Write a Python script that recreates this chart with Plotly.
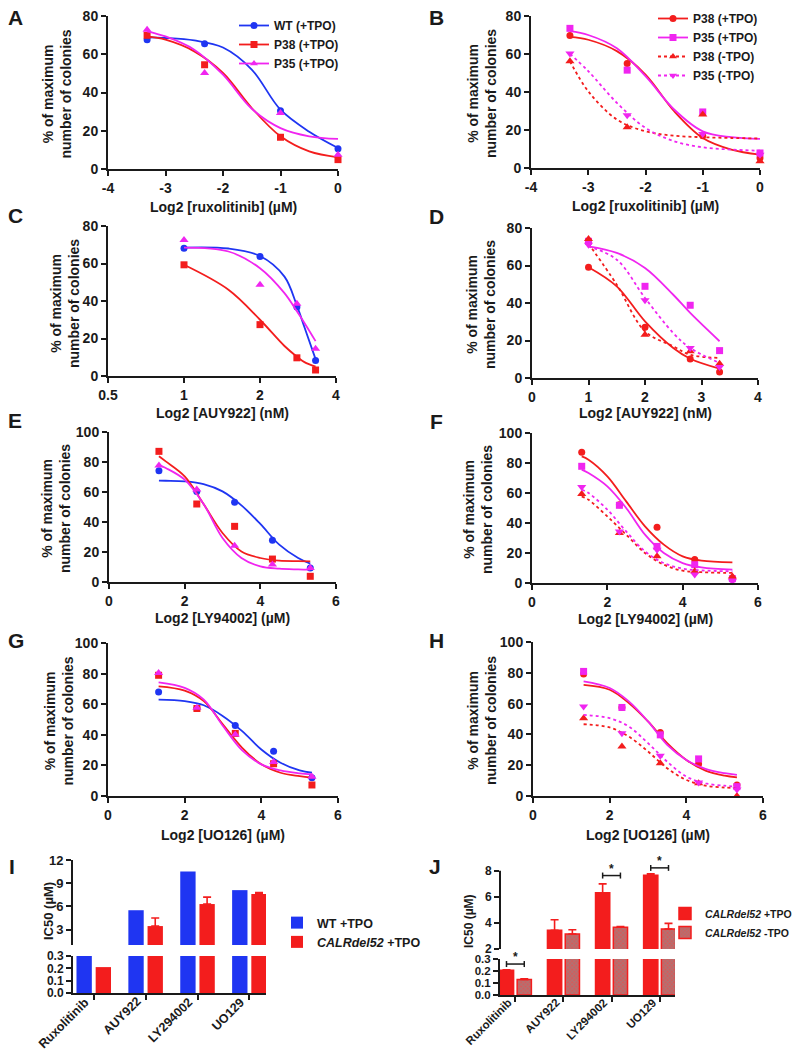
import math
import plotly.graph_objects as go

# ---------------- data ----------------
rux_x = [-3.32, -2.32, -1.0, 0.0]
auy_x = [1.0, 2.0, 2.8, 3.32]
ly_x = [1.32, 2.32, 3.32, 4.32, 5.32]
uo_x = [1.32, 2.32, 3.32, 4.32, 5.32]

# A  ruxolitinib (+TPO): WT, P38, P35
a_pts = [[67.6, 65.5, 30.5, 10.6], [69.9, 54.5, 16.6, 4.9], [72.8, 50.2, 29.3, 7.5]]
a_fit_x = [-3.32, -3.0, -2.5, -2.0, -1.5, -1.0, -0.5, 0.0]
a_fit = [[68.8, 68.5, 67.2, 63.5, 52.0, 31.0, 19.5, 11.0],
         [69.3, 67.6, 61.5, 50.2, 31.9, 17.1, 9.2, 6.1],
         [72.0, 69.3, 62.4, 49.3, 31.5, 21.4, 17.1, 15.7]]

# B  ruxolitinib: P38+, P35+, P38-, P35-
b_pts = [[69.8, 55.0, 17.0, 5.3], [73.5, 51.5, 29.5, 7.9],
         [56.2, 21.4, 28.1, 3.5], [60.3, 27.8, 17.9, 7.0]]
b_fit_x = [-3.32, -3.0, -2.5, -2.0, -1.5, -1.0, -0.5, 0.0]
b_fit = [[69.0, 67.5, 61.5, 49.2, 29.9, 15.8, 9.7, 7.0],
         [72.0, 70.0, 63.0, 48.3, 30.8, 19.3, 16.2, 15.3],
         [56.2, 40.4, 25.5, 19.3, 17.0, 16.2, 15.8, 15.5],
         [60.1, 51.0, 34.3, 21.1, 14.1, 10.9, 9.7, 9.1]]

# C  AUY922 (+TPO): WT, P38, P35
c_pts = [[68.1, 63.7, 36.8, 8.3], [59.3, 27.4, 9.7, 3.2], [72.6, 48.7, 38.6, 14.5]]
c_fit_x = [1.0, 1.5, 2.0, 2.5, 2.8, 3.0, 3.32]
c_fit = [[68.5, 68.0, 64.0, 53.0, 37.5, 26.0, 9.0],
         [59.3, 46.0, 30.0, 16.0, 10.3, 7.4, 5.0],
         [68.5, 66.4, 57.5, 44.2, 34.5, 28.3, 18.6]]

# D  AUY922: P38+, P35+, P38-, P35-
d_pts = [[59.1, 27.1, 10.1, 3.2], [72.9, 48.9, 38.8, 14.6],
         [74.1, 23.1, 14.2, 7.6], [71.1, 41.4, 16.0, 5.9]]
d_fit_x = [1.0, 1.5, 2.0, 2.5, 2.8, 3.32]
d_fit = [[59.1, 48.9, 30.2, 16.0, 10.3, 5.0],
         [70.2, 66.7, 58.7, 44.4, 34.7, 19.6],
         [71.6, 49.8, 24.9, 16.9, 12.4, 10.7],
         [70.2, 63.1, 42.7, 24.0, 16.0, 8.0]]

# E  LY94002 (+TPO): WT, P38, P35
e_pts = [[74.2, 60.4, 53.1, 27.8, 9.3], [87.1, 52.0, 37.1, 15.3, 3.8],
         [77.6, 61.6, 24.2, 11.6, 9.3]]
e_fit_x = [1.32, 1.5, 2.0, 2.5, 3.0, 3.5, 4.0, 4.5, 5.0, 5.32]
e_fit = [[67.6, 67.5, 67.1, 65.3, 60.4, 51.1, 38.7, 24.9, 16.0, 12.2],
         [83.8, 80.4, 70.4, 52.0, 32.7, 20.4, 16.0, 14.2, 13.9, 13.8],
         [78.2, 76.0, 68.2, 52.0, 29.3, 16.0, 10.4, 8.9, 8.4, 8.2]]

# F  LY94002: P38+, P35+, P38-, P35-
f_pts = [[87.1, 52.2, 37.1, 15.6, 3.3], [77.8, 51.8, 24.4, 12.2, 2.9],
         [59.3, 33.3, 17.8, 7.8, 4.4], [64.0, 34.4, 22.2, 5.6, 1.1]]
f_fit_x = [1.32, 1.5, 2.0, 2.5, 3.0, 3.5, 4.0, 4.5, 5.32]
f_fit = [[84.4, 82.2, 71.1, 54.4, 37.8, 25.6, 17.8, 14.9, 13.8],
         [75.6, 73.3, 64.4, 50.0, 32.2, 20.0, 13.3, 10.4, 8.9],
         [57.8, 55.5, 44.4, 32.2, 20.0, 12.2, 8.2, 7.2, 6.7],
         [62.2, 60.0, 48.9, 34.4, 21.1, 13.3, 9.6, 8.4, 7.8]]

# G  UO126 (+TPO): WT, P38, P35
g_pts = [[68.0, 57.2, 46.1, 29.3, 12.0], [78.9, 57.2, 40.9, 21.1, 7.2],
         [80.4, 57.6, 40.2, 22.2, 12.5]]
g_fit_x = [1.32, 2.0, 2.5, 3.0, 3.5, 4.0, 4.5, 5.0, 5.32]
g_fit = [[63.0, 62.0, 59.3, 52.2, 42.4, 30.4, 21.7, 16.7, 15.2],
         [71.7, 68.9, 62.0, 46.7, 31.5, 20.7, 15.2, 13.0, 12.0],
         [74.3, 70.7, 63.0, 45.7, 29.8, 20.7, 16.7, 14.8, 14.1]]

# H  UO126: P38+, P35+, P38-, P35-
h_pts = [[79.2, 57.5, 41.2, 20.8, 7.2], [80.9, 57.5, 39.7, 24.1, 6.1],
         [50.5, 32.1, 21.3, 8.2, 0.0], [58.1, 40.8, 26.2, 8.7, 4.3]]
h_fit_x = [1.32, 2.0, 2.5, 3.0, 3.5, 4.0, 4.5, 5.0, 5.32]
h_fit = [[72.2, 69.0, 60.3, 48.4, 34.3, 23.4, 16.5, 13.2, 12.1],
         [74.4, 70.1, 61.4, 48.4, 33.2, 23.4, 17.6, 14.8, 13.7],
         [46.6, 44.5, 38.6, 28.9, 18.0, 10.4, 6.7, 5.5, 5.0],
         [52.7, 50.5, 45.1, 34.3, 22.3, 12.6, 8.2, 6.7, 6.1]]

# I / J  IC50 bars
drugs = ["Ruxolitinib", "AUY922", "LY294002", "UO129"]
i_wt = [0.30, 5.5, 10.5, 8.1]
i_calr = [0.21, 3.45, 6.3, 7.6]
i_calr_err = [None, 1.05, 0.9, 0.2]
j_pos = [0.207, 3.44, 6.31, 7.67]
j_pos_err = [0.004, 0.81, 0.69, 0.1]
j_neg = [0.13, 3.15, 3.67, 3.54]
j_neg_err = [0.006, 0.33, 0.05, 0.43]
sig_drug = [0, 2, 3]
sig_height = [0.258, 7.64, 8.23]

# ---------------- styling ----------------
W, H = 800, 1049
FONT = "Arial, Liberation Sans, sans-serif"
INK = "#1a1a1a"
BLUE = "#1f35f2"
RED = "#f31d1d"
MAGENTA = "#f025f0"
BARGAP = 0.26

left_styles = [("WT (+TPO)", BLUE, "circle", "solid"),
               ("P38 (+TPO)", RED, "square", "solid"),
               ("P35 (+TPO)", MAGENTA, "triangle-up", "solid")]
right_styles = [("P38 (+TPO)", RED, "circle", "solid"),
                ("P35 (+TPO)", MAGENTA, "square", "solid"),
                ("P38 (-TPO)", RED, "triangle-up", "dot"),
                ("P35 (-TPO)", MAGENTA, "triangle-down", "dot")]


def fx(p):
    return p / W


def fy(p):
    return 1 - p / H


def bold(size):
    return dict(family=FONT, size=size, color=INK, weight="bold")


def axis(**kw):
    d = dict(showline=True, linewidth=2, linecolor=INK, ticks="outside",
             ticklen=5, tickwidth=2, tickcolor=INK, showgrid=False,
             zeroline=False, tickfont=bold(14), fixedrange=True,
             ticklabeloverflow="allow")
    d.update(kw)
    return d


panels = [
    dict(letter="A", lp=(7, 10), n=1, st=left_styles, xpx=(100, 330), ypx=(8, 161),
         xr=[-4, 0], yr=[0, 80], xt=[-4, -3, -2, -1, 0], ymax=80, xs=rux_x, pts=a_pts,
         fit_x=a_fit_x, fit=a_fit, xtitle="Log2 [ruxolitinib] (µM)", xty=199, yty=48,
         legend="legend"),
    dict(letter="B", lp=(428, 10), n=2, st=right_styles, xpx=(523, 752), ypx=(8, 160),
         xr=[-4, 0], yr=[0, 80], xt=[-4, -3, -2, -1, 0], ymax=80, xs=rux_x, pts=b_pts,
         fit_x=b_fit_x, fit=b_fit, xtitle="Log2 [ruxolitinib] (µM)", xty=198, yty=474,
         legend="legend2"),
    dict(letter="C", lp=(7, 208), n=3, st=left_styles, xpx=(100, 328), ypx=(218, 368),
         xr=[math.log10(0.5), math.log10(4)], yr=[0, 80], xt=[0.5, 1, 2, 4], ymax=80,
         xs=auy_x, pts=c_pts, fit_x=c_fit_x, fit=c_fit, xtitle="Log2 [AUY922] (nM)",
         xty=405, yty=57, xtype="log"),
    dict(letter="D", lp=(428, 209), n=4, st=right_styles, xpx=(524, 750), ypx=(220, 370),
         xr=[0, 4], yr=[0, 80], xt=[0, 1, 2, 3, 4], ymax=80, xs=auy_x, pts=d_pts,
         fit_x=d_fit_x, fit=d_fit, xtitle="Log2 [AUY922] (nM)", xty=405, yty=473),
    dict(letter="E", lp=(7, 412), n=5, st=left_styles, xpx=(101, 328), ypx=(424, 574),
         xr=[0, 6], yr=[0, 100], xt=[0, 2, 4, 6], ymax=100, xs=ly_x, pts=e_pts,
         fit_x=e_fit_x, fit=e_fit, xtitle="Log2 [LY94002] (µM)", xty=610, yty=48),
    dict(letter="F", lp=(428, 413), n=6, st=right_styles, xpx=(524, 750), ypx=(425, 575),
         xr=[0, 6], yr=[0, 100], xt=[0, 2, 4, 6], ymax=100, xs=ly_x, pts=f_pts,
         fit_x=f_fit_x, fit=f_fit, xtitle="Log2 [LY94002] (µM)", xty=611, yty=470),
    dict(letter="G", lp=(8, 632), n=7, st=left_styles, xpx=(100, 330), ypx=(635, 788),
         xr=[0, 6], yr=[0, 100], xt=[0, 2, 4, 6], ymax=100, xs=uo_x, pts=g_pts,
         fit_x=g_fit_x, fit=g_fit, xtitle="Log2 [UO126] (µM)", xty=827, yty=50),
    dict(letter="H", lp=(428, 632), n=8, st=right_styles, xpx=(525, 755), ypx=(634, 788),
         xr=[0, 6], yr=[0, 100], xt=[0, 2, 4, 6], ymax=100, xs=uo_x, pts=h_pts,
         fit_x=h_fit_x, fit=h_fit, xtitle="Log2 [UO126] (µM)", xty=827, yty=474),
]

fig = go.Figure()
layout = {}
annotations = []
shapes = []


def ax_names(n):
    s = "" if n == 1 else str(n)
    return "xaxis" + s, "yaxis" + s, "x" + s, "y" + s


def letter(txt, pos):
    annotations.append(dict(text=txt, x=fx(pos[0]), y=fy(pos[1]), xref="paper", yref="paper",
                            showarrow=False, font=bold(21), xanchor="center", yanchor="middle"))


for p in panels:
    xa, ya, xr_, yr_ = ax_names(p["n"])
    xdom = [fx(p["xpx"][0]), fx(p["xpx"][1])]
    ydom = [fy(p["ypx"][1]), fy(p["ypx"][0])]
    xt = p["xt"]
    layout[xa] = axis(domain=xdom, anchor=yr_, range=p["xr"], type=p.get("xtype", "linear"),
                      tickvals=xt, ticktext=[str(v) for v in xt])
    layout[ya] = axis(domain=ydom, anchor=xr_, range=p["yr"],
                      tickvals=list(range(0, p["ymax"] + 1, 20)))
    for (name, col, sym, dash), pts, fit in zip(p["st"], p["pts"], p["fit"]):
        fig.add_trace(go.Scatter(x=p["fit_x"], y=fit, mode="lines", line_shape="spline",
                                 line=dict(color=col, width=1.8, dash=dash),
                                 xaxis=xr_, yaxis=yr_, showlegend=False, hoverinfo="skip"))
        fig.add_trace(go.Scatter(x=p["xs"], y=pts, mode="markers", cliponaxis=False,
                                 marker=dict(color=col, symbol=sym,
                                             size=8 if "triangle" in sym else 7),
                                 xaxis=xr_, yaxis=yr_, showlegend=False, name=name))
        if "legend" in p:
            fig.add_trace(go.Scatter(x=[None], y=[None], mode="lines+markers", name=name,
                                     line=dict(color=col, width=1.8, dash=dash),
                                     marker=dict(color=col, symbol=sym, size=7),
                                     xaxis=xr_, yaxis=yr_, legend=p["legend"]))
    cx = (p["xpx"][0] + p["xpx"][1]) / 2
    cy = (p["ypx"][0] + p["ypx"][1]) / 2 + 2
    annotations.append(dict(text=p["xtitle"], x=fx(cx), y=fy(p["xty"]), xref="paper",
                            yref="paper", showarrow=False, font=bold(14),
                            xanchor="center", yanchor="middle"))
    annotations.append(dict(text="% of maximum<br>number of colonies", x=fx(p["yty"]),
                            y=fy(cy), xref="paper", yref="paper", showarrow=False,
                            font=bold(14), textangle=-90, xanchor="center",
                            yanchor="middle"))
    letter(p["letter"], p["lp"])

# ---------------- I and J: broken-axis bar charts ----------------
pos = list(range(len(drugs)))
half = (1 - BARGAP) / 4


def bar_axes(n_up, n_lo, xpx, up_px, lo_px, xr, up_range, up_ticks, tick_size, lo_size,
             cat_size):
    xu, yu, xu_r, yu_r = ax_names(n_up)
    xl, yl, xl_r, yl_r = ax_names(n_lo)
    xdom = [fx(xpx[0]), fx(xpx[1])]
    layout[xu] = axis(domain=xdom, anchor=yu_r, range=xr, visible=False)
    layout[yu] = axis(domain=[fy(up_px[1]), fy(up_px[0])], anchor=xu_r, range=up_range,
                      tickvals=up_ticks, tickfont=bold(tick_size))
    layout[xl] = axis(domain=xdom, anchor=yl_r, range=xr, tickvals=pos,
                      showticklabels=False)
    layout[yl] = axis(domain=[fy(lo_px[1]), fy(lo_px[0])], anchor=xl_r, range=[0, 0.3],
                      tickvals=[0, 0.1, 0.2, 0.3], ticktext=["0.0", "0.1", "0.2", "0.3"],
                      tickfont=bold(lo_size))
    # slanted category labels, their right end just under each tick
    for i, name in zip(pos, drugs):
        annotations.append(dict(text=name, x=i, y=fy(lo_px[1] - 1), xref=xl_r, yref="paper",
                                showarrow=False, textangle=-45, font=bold(cat_size),
                                xanchor="right", yanchor="top", xshift=1))
    return (xu_r, yu_r), (xl_r, yl_r)


def err(vals, color):
    return dict(type="data", array=vals, arrayminus=[0] * len(vals), symmetric=False,
                color=color, thickness=1.6, width=4)


# I
(iu, iy), (il, ily) = bar_axes(9, 10, (65, 258), (852, 937), (948, 985), [-0.4, 3.32],
                               [1, 12], [3, 6, 9, 12], 13, 12, 12.5)
for vals, col, name, e in [(i_wt, BLUE, "WT +TPO", None),
                           (i_calr, RED, "<i>CALRdel52</i> +TPO", i_calr_err)]:
    fig.add_trace(go.Bar(x=pos, y=vals, marker=dict(color=col, line=dict(width=0)),
                         name=name, xaxis=iu, yaxis=iy, legend="legend3",
                         error_y=err(e, col) if e else None))
    fig.add_trace(go.Bar(x=pos, y=vals, marker=dict(color=col, line=dict(width=0)),
                         name=name, xaxis=il, yaxis=ily, showlegend=False))

# J
(ju, jy), (jl, jly) = bar_axes(11, 12, (492, 667), (857, 941), (951, 987), [-0.32, 3.32],
                               [2, 8.45], [2, 4, 6, 8], 12, 11.5, 11.5)
layout["yaxis11"]["showline"] = False
shapes.append(dict(type="line", xref="x11 domain", yref="y11", x0=0, x1=0, y0=2, y1=8,
                   line=dict(color=INK, width=2)))
hatch = dict(color="#b07070", line=dict(color=RED, width=1.5),
             pattern=dict(shape="x", fgcolor="#8a8a8a", bgcolor="#d65a5a", size=3,
                          solidity=0.6))
solid = dict(color=RED, line=dict(color=RED, width=1.5))
for vals, e, mk, name in [(j_pos, j_pos_err, solid, "<i>CALRdel52</i> +TPO"),
                          (j_neg, j_neg_err, hatch, "<i>CALRdel52</i> -TPO")]:
    e_up = [None] + e[1:]
    e_lo = e[:1] + [None] * (len(e) - 1)
    fig.add_trace(go.Bar(x=pos, y=vals, marker=mk, name=name, xaxis=ju, yaxis=jy,
                         legend="legend4", error_y=err(e_up, RED)))
    fig.add_trace(go.Bar(x=pos, y=vals, marker=mk, name=name, xaxis=jl, yaxis=jly,
                         showlegend=False, error_y=err(e_lo, RED)))

for d, h in zip(sig_drug, sig_height):
    xr_, yr_ = ("x12", "y12") if h < 0.3 else ("x11", "y11")
    shapes.append(dict(type="line", xref=xr_, yref=yr_, x0=d - half, x1=d + half, y0=h, y1=h,
                       line=dict(color=INK, width=1.5)))
    for xe in (d - half, d + half):
        shapes.append(dict(type="line", xref=xr_, yref=yr_, ysizemode="pixel", yanchor=h,
                           x0=xe, x1=xe, y0=-3, y1=3, line=dict(color=INK, width=1.5)))
    annotations.append(dict(text="*", x=d, y=h, xref=xr_, yref=yr_, showarrow=False,
                            yshift=7, font=bold(12), xanchor="center", yanchor="middle"))

annotations.append(dict(text="IC50 (µM)", x=fx(40), y=fy(903), xref="paper", yref="paper",
                        showarrow=False, font=bold(13), textangle=-90,
                        xanchor="center", yanchor="middle"))
annotations.append(dict(text="IC50 (µM)", x=fx(461), y=fy(913), xref="paper", yref="paper",
                        showarrow=False, font=bold(12), textangle=-90,
                        xanchor="center", yanchor="middle"))
letter("I", (4, 858))
letter("J", (427, 858))


def legend_at(x, y, size):
    return dict(x=fx(x), y=fy(y), xanchor="left", yanchor="top", font=bold(size),
                bgcolor="rgba(0,0,0,0)", borderwidth=0, tracegroupgap=0)


fig.update_layout(
    width=W, height=H, autosize=False,
    margin=dict(l=0, r=0, t=0, b=0, autoexpand=False),
    paper_bgcolor="white", plot_bgcolor="white",
    font=dict(family=FONT, color=INK),
    barmode="group", bargap=BARGAP, bargroupgap=0.2,
    annotations=annotations, shapes=shapes,
    legend=legend_at(226, 3, 12),
    legend2=legend_at(645, -4, 12),
    legend3=legend_at(269, 900, 12.5),
    legend4=legend_at(657, 891, 10.5),
    **layout,
)

fig.write_html("out.html")
